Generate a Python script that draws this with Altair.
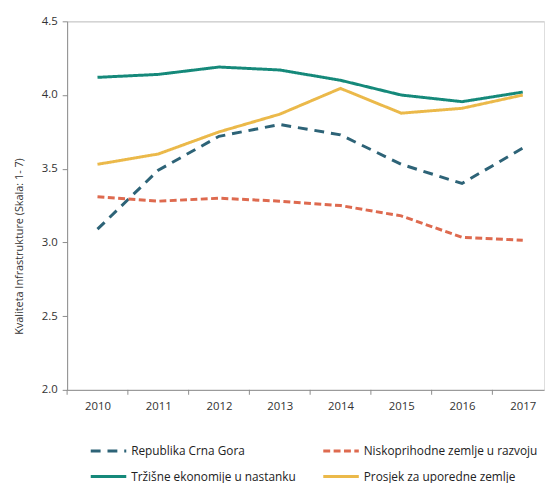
import altair as alt
import pandas as pd

years = [2010, 2011, 2012, 2013, 2014, 2015, 2016, 2017]
series_names = [
    "Republika Crna Gora",
    "Niskoprihodne zemlje u razvoju",
    "Tržišne ekonomije u nastanku",
    "Prosjek za uporedne zemlje",
]
crna_gora = [3.09, 3.49, 3.72, 3.80, 3.73, 3.53, 3.40, 3.64]
niskoprihodne = [3.31, 3.28, 3.30, 3.28, 3.25, 3.18, 3.035, 3.015]
trzisne = [4.12, 4.14, 4.19, 4.17, 4.10, 4.00, 3.955, 4.02]
prosjek = [3.53, 3.60, 3.75, 3.87, 4.045, 3.877, 3.91, 4.00]
colors = ["#2d6377", "#de6a4f", "#15897a", "#ebb94a"]
dashes = [[10, 7], [7, 3.5], [1, 0], [1, 0]]
boundaries = [y - 0.5 for y in years]

rows = []
for name, vals in zip(series_names, [crna_gora, niskoprihodne, trzisne, prosjek]):
    for y, v in zip(years, vals):
        rows.append({"Godina": y, "Vrijednost": v, "Serija": name})
df = pd.DataFrame(rows)
bdf = pd.DataFrame({"Granica": boundaries})

font = "Open Sans"
H = 374

x_scale = alt.Scale(domain=[2009.5, 2017.35], nice=False, zero=False)
y_scale = alt.Scale(domain=[2.0, 4.5], nice=False, zero=False)

x_axis = alt.Axis(
    values=years,
    format="d",
    ticks=False,
    labelOverlap=False,
    labelFlush=False,
    domainColor="#8c8c8c",
    labelFont=font,
    labelFontSize=11.5,
    labelColor="#333333",
    labelPadding=11,
    grid=False,
    title=None,
)
y_axis = alt.Axis(
    values=[2.0, 2.5, 3.0, 3.5, 4.0, 4.5],
    format=".1f",
    tickSize=5,
    tickColor="#8c8c8c",
    domainColor="#8c8c8c",
    labelFont=font,
    labelFontSize=11.5,
    labelColor="#333333",
    labelPadding=5,
    grid=True,
    gridColor="#d4d4d4",
    gridWidth=1.5,
    gridOpacity={"condition": {"test": "datum.value === 4.5", "value": 1}, "value": 0},
    title="Kvaliteta Infrastrukture  (Skala: 1- 7)",
    titleFont=font,
    titleFontSize=11,
    titleFontWeight="normal",
    titleColor="#333333",
    titleX=-48,
    titleY=228,
    titleAngle=270,
    titleAlign="center",
    titleBaseline="middle",
)

lines = (
    alt.Chart(df)
    .mark_line(strokeWidth=3)
    .encode(
        x=alt.X("Godina:Q", scale=x_scale, axis=x_axis),
        y=alt.Y("Vrijednost:Q", scale=y_scale, axis=y_axis),
        color=alt.Color(
            "Serija:N",
            scale=alt.Scale(domain=series_names, range=colors),
            sort=series_names,
            legend=alt.Legend(
                title=None,
                orient="none",
                direction="horizontal",
                legendX=22,
                legendY=416,
                columns=2,
                columnPadding=20,
                rowPadding=-12,
                symbolType="stroke",
                symbolSize=1300,
                symbolStrokeWidth=3,
                labelFont=font,
                labelFontSize=12,
                labelColor="#222222",
                labelOffset=3,
                labelLimit=300,
            ),
        ),
        strokeDash=alt.StrokeDash(
            "Serija:N",
            scale=alt.Scale(domain=series_names, range=dashes),
            sort=series_names,
            legend=alt.Legend(title=None),
        ),
    )
)

ticks = (
    alt.Chart(bdf)
    .mark_rule(color="#8c8c8c", strokeWidth=1)
    .encode(
        x=alt.X("Granica:Q", scale=x_scale),
        y=alt.value(H),
        y2=alt.value(H + 5),
    )
)

chart = (
    alt.layer(lines, ticks)
    .properties(
        width=484,
        height=H,
        autosize=alt.AutoSizeParams(type="none"),
        padding={"left": 60, "top": 10, "right": 2, "bottom": 91},
    )
    .configure_view(stroke=None)
    .configure(background="white")
)

chart.save("out.html", embed_options={"renderer": "svg", "actions": False})
